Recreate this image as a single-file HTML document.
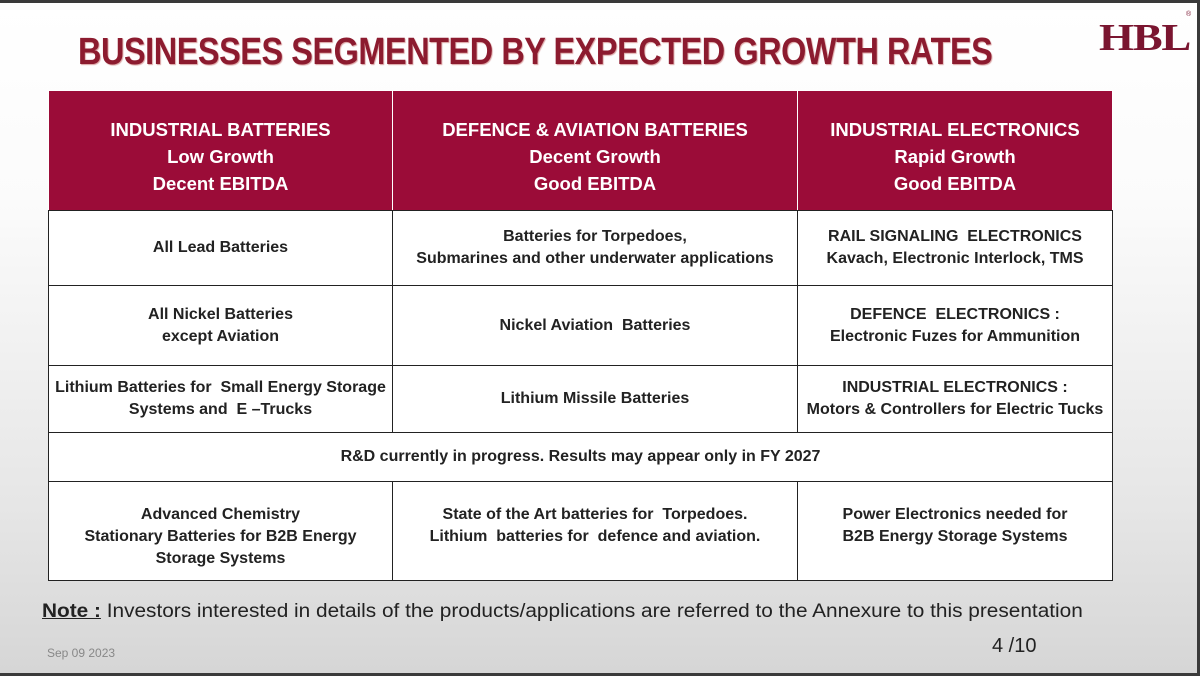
<!DOCTYPE html>
<html><head><meta charset="utf-8"><style>
*{margin:0;padding:0;box-sizing:border-box}
body{width:1200px;height:676px;overflow:hidden;font-family:"Liberation Sans",sans-serif;background:#3a3a3a;position:relative}
#slide{position:absolute;left:0;top:3px;width:1197px;height:670px;background:linear-gradient(#ffffff 0%,#fbfbfb 30%,#e6e6e6 75%,#d6d6d6 100%)}
#title{position:absolute;left:78px;top:28px;font-size:38px;font-weight:bold;color:#8c1b2f;white-space:nowrap;transform:scaleX(0.853);transform-origin:left top;text-shadow:1px 1px 1px #d9a0a0;letter-spacing:-0.5px}
#logo{position:absolute;left:1099px;top:13px;font-family:"Liberation Serif",serif;font-weight:bold;font-size:38px;color:#7a1530;letter-spacing:-1px;transform:scaleX(1.18);transform-origin:left top}
#reg{position:absolute;left:1186px;top:8px;font-size:7px;color:#7a1530}
table{position:absolute;left:48px;top:87px;width:1064px;border-collapse:collapse;table-layout:fixed}
td,th{border:1.5px solid #222;text-align:center;vertical-align:middle;font-size:16px;font-weight:bold;color:#222;line-height:22px;background:#fff}
th{background:#9b0c38;color:#fff;font-size:18.5px;line-height:27px;border-color:#fff #fff #222 #fff;height:120px;padding-top:12px}
#note{position:absolute;left:42px;top:598px;font-size:19px;color:#222;white-space:nowrap;transform:scaleX(1.095);transform-origin:left top}
#note b{text-decoration:underline}
#date{position:absolute;left:47px;top:643px;font-size:12px;color:#888}
#page{position:absolute;left:992px;top:632px;font-size:20px;color:#222}
</style></head><body>
<div id="slide">
<div id="title">BUSINESSES SEGMENTED BY EXPECTED GROWTH RATES</div>
<div id="logo">HBL</div><div id="reg">®</div>
<table>
<colgroup><col style="width:344px"><col style="width:405px"><col style="width:315px"></colgroup>
<tr>
<th>INDUSTRIAL BATTERIES<br>Low Growth<br>Decent EBITDA</th>
<th>DEFENCE &amp; AVIATION BATTERIES<br>Decent Growth<br>Good EBITDA</th>
<th>INDUSTRIAL ELECTRONICS<br>Rapid Growth<br>Good EBITDA</th></tr>
<tr style="height:75px"><td>All Lead Batteries</td><td>Batteries for Torpedoes,<br>Submarines and other underwater applications</td><td>RAIL SIGNALING&nbsp; ELECTRONICS<br>Kavach, Electronic Interlock, TMS</td></tr>
<tr style="height:80px"><td>All Nickel Batteries<br>except Aviation</td><td>Nickel Aviation&nbsp; Batteries</td><td>DEFENCE&nbsp; ELECTRONICS :<br>Electronic Fuzes for Ammunition</td></tr>
<tr style="height:67px"><td>Lithium Batteries for&nbsp; Small Energy Storage<br>Systems and&nbsp; E –Trucks</td><td>Lithium Missile Batteries</td><td>INDUSTRIAL ELECTRONICS :<br>Motors &amp; Controllers for Electric Tucks</td></tr>
<tr style="height:49px"><td colspan="3">R&amp;D currently in progress. Results may appear only in FY 2027</td></tr>
<tr style="height:99px"><td style="vertical-align:top;padding-top:22px">Advanced Chemistry<br>Stationary Batteries for B2B Energy<br>Storage Systems</td><td style="vertical-align:top;padding-top:22px">State of the Art batteries for&nbsp; Torpedoes.<br>Lithium&nbsp; batteries for&nbsp; defence and aviation.</td><td style="vertical-align:top;padding-top:22px">Power Electronics needed for<br>B2B Energy Storage Systems</td></tr>
</table>
<div id="note"><b>Note :</b> Investors interested in details of the products/applications are referred to the Annexure to this presentation</div>
<div id="date">Sep 09 2023</div>
<div id="page">4 /10</div>
</div>
</body></html>
